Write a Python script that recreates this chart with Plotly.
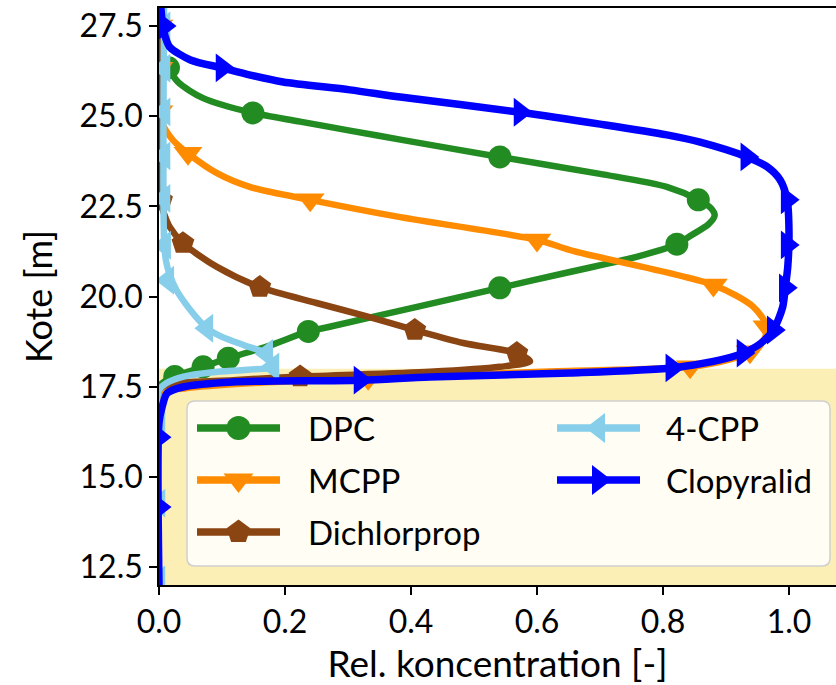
import plotly.graph_objects as go

# ---------------- profile data (relative concentration vs. level) ----------------
DPC_Y = [28.0, 27.3, 26.7, 26.34, 25.95, 25.5, 25.09, 24.85, 24.6, 24.35, 23.87, 23.4, 23.04,
         22.68, 22.45, 22.25, 22.0, 21.7, 21.45, 21.1, 20.68, 20.24, 19.7, 19.16, 19.03, 18.61,
         18.29, 18.05, 17.78, 17.5, 12.0]
DPC_X = [0.0, 0.001, 0.006, 0.015, 0.03, 0.07, 0.149, 0.224, 0.303, 0.383, 0.541, 0.70, 0.806,
         0.856, 0.876, 0.882, 0.872, 0.845, 0.822, 0.758, 0.652, 0.541, 0.406, 0.271, 0.237, 0.171,
         0.11, 0.07, 0.025, 0.0, 0.0]
DPC_MY = [26.34, 25.09, 23.87, 22.68, 21.45, 20.24, 19.03, 18.29, 18.05, 17.78]
DPC_MX = [0.015, 0.149, 0.541, 0.856, 0.822, 0.541, 0.237, 0.11, 0.07, 0.025]

MCPP_Y = [28.0, 25.2, 24.85, 24.34, 23.97, 23.42, 23.04, 22.68, 22.2, 21.57, 21.25, 20.32, 19.72,
          19.16, 18.8, 18.47, 18.25, 18.05, 17.92, 17.73, 17.6, 17.45, 17.3, 12.0]
MCPP_X = [0.0, 0.0, 0.004, 0.022, 0.046, 0.092, 0.144, 0.24, 0.383, 0.6, 0.66, 0.88, 0.943,
          0.965, 0.96, 0.938, 0.905, 0.843, 0.62, 0.332, 0.15, 0.04, 0.0, 0.0]
MCPP_MY = [27.5, 26.33, 25.12, 23.97, 22.68, 21.57, 20.32, 19.16, 18.47, 18.05, 17.73]
MCPP_MX = [0.0, 0.0, 0.0, 0.046, 0.24, 0.6, 0.88, 0.965, 0.938, 0.843, 0.332]

DICH_Y = [28.0, 22.8, 22.4, 21.93, 21.48, 20.82, 20.26, 19.82, 19.45, 19.07, 18.71, 18.43, 18.2,
          18.05, 17.91, 17.78, 17.68, 17.55, 17.4, 12.0]
DICH_X = [0.0, 0.0, 0.006, 0.017, 0.038, 0.092, 0.16, 0.25, 0.33, 0.406, 0.483, 0.568, 0.589,
          0.541, 0.43, 0.224, 0.117, 0.012, 0.0, 0.0]
DICH_MY = [22.67, 21.48, 20.26, 19.07, 18.43, 17.78]
DICH_MX = [0.004, 0.038, 0.16, 0.406, 0.568, 0.224]

CPP_Y = [28.0, 21.6, 21.0, 20.6, 20.2, 19.8, 19.45, 19.12, 18.88, 18.65, 18.42, 18.2, 18.05,
         17.97, 17.9, 17.78, 17.6, 17.4, 12.0]
CPP_X = [0.008, 0.008, 0.011, 0.017, 0.027, 0.042, 0.058, 0.076, 0.10, 0.135, 0.171, 0.18, 0.181,
         0.14, 0.085, 0.039, 0.012, 0.0, 0.0]
CPP_MY = [27.5, 26.33, 25.12, 23.9, 22.72, 21.42, 20.45, 19.12, 18.42, 18.05, 16.6, 14.27, 12.14]
CPP_MX = [0.008, 0.008, 0.008, 0.008, 0.008, 0.009, 0.014, 0.076, 0.171, 0.181, 0.0, 0.0, 0.0]

CLOP_Y = [28.0, 27.5, 27.2, 26.92, 26.56, 26.34, 26.14, 25.95, 25.73, 25.53, 25.11, 24.78, 24.48,
          24.28, 23.87, 23.6, 23.23, 22.68, 21.76, 20.82, 20.24, 19.71, 19.07, 18.7, 18.43, 18.2,
          18.02, 17.88, 17.77, 17.68, 17.63, 17.49, 17.32, 16.94, 16.5, 12.0]
CLOP_X = [0.003, 0.006, 0.01, 0.017, 0.05, 0.10, 0.145, 0.197, 0.303, 0.383, 0.573, 0.70, 0.806,
          0.859, 0.933, 0.965, 0.986, 0.997, 1.0, 0.998, 0.994, 0.99, 0.975, 0.955, 0.927, 0.88,
          0.814, 0.652, 0.43, 0.319, 0.117, 0.038, 0.013, 0.005, 0.0, 0.0]
CLOP_MY = [27.5, 26.34, 25.11, 23.87, 22.68, 21.43, 20.24, 19.07, 18.43, 18.02, 17.68, 16.1, 14.16]
CLOP_MX = [0.008, 0.10, 0.573, 0.933, 0.997, 0.997, 0.994, 0.975, 0.927, 0.814, 0.319, 0.0, 0.0]

SERIES = ["DPC", "MCPP", "Dichlorprop", "4-CPP", "Clopyralid"]
COLORS = ["#228B22", "#FF8C00", "#8B4513", "#87CEEB", "#0000FF"]
SYMBOLS = ["circle", "triangle-down", "pentagon", "triangle-left", "triangle-right"]
MSIZES = [23, 25, 24, 25, 25]
LWIDTHS = [6.5, 6.5, 6.5, 6.5, 7.5]

X_TICKS = [0.0, 0.2, 0.4, 0.6, 0.8, 1.0]
Y_TICKS = [12.5, 15.0, 17.5, 20.0, 22.5, 25.0, 27.5]

BAND = (12.0, 18.0)          # shaded level interval
X_RANGE = [0.0, 1.0746]
Y_RANGE = [12.0, 28.0]

FONT = "Lato"
W, H = 836, 685
ML, MR, MT, MB = 159, 0, 8, 100

curves = [(DPC_X, DPC_Y, DPC_MX, DPC_MY), (MCPP_X, MCPP_Y, MCPP_MX, MCPP_MY),
          (DICH_X, DICH_Y, DICH_MX, DICH_MY), (CPP_X, CPP_Y, CPP_MX, CPP_MY),
          (CLOP_X, CLOP_Y, CLOP_MX, CLOP_MY)]

fig = go.Figure()

for name, col, sym, ms, lw, (cx, cy, mx, my) in zip(SERIES, COLORS, SYMBOLS, MSIZES, LWIDTHS, curves):
    fig.add_trace(go.Scatter(x=cx, y=cy, mode="lines", name=name, showlegend=False,
                             line=dict(color=col, width=lw, shape="spline", smoothing=0.8),
                             hoverinfo="skip"))
    fig.add_trace(go.Scatter(x=mx, y=my, mode="markers", name=name, showlegend=False,
                             marker=dict(color=col, symbol=sym, size=ms, line=dict(width=0)),
                             hoverinfo="skip"))

# shaded band behind the profiles
fig.add_shape(type="rect", xref="x domain", yref="y", x0=0, x1=1, y0=BAND[0], y1=BAND[1],
              fillcolor="#FBEFB6", line=dict(width=0), layer="below")

# ---------------- legend drawn on a pixel-unit overlay axis ----------------
LEG_BOX = (187, 401, 830, 566)
LEG_R = 8
LEG_ROWS = [428, 480, 532]
LEG_COLS = [(197, 280, 306), (557, 640, 664)]

x0, y0, x1, y1 = LEG_BOX
r = LEG_R
path = (f"M{x0 + r},{y0} L{x1 - r},{y0} Q{x1},{y0} {x1},{y0 + r} L{x1},{y1 - r} "
        f"Q{x1},{y1} {x1 - r},{y1} L{x0 + r},{y1} Q{x0},{y1} {x0},{y1 - r} "
        f"L{x0},{y0 + r} Q{x0},{y0} {x0 + r},{y0} Z")
fig.add_shape(type="path", path=path, xref="x2", yref="y2",
              fillcolor="rgba(255,255,255,0.85)", line=dict(color="#CFCFCF", width=1.5),
              layer="below")

for i, (name, col, sym, ms) in enumerate(zip(SERIES, COLORS, SYMBOLS, MSIZES)):
    col_i = 0 if i < 3 else 1
    row_i = i if i < 3 else i - 3
    lx0, lx1, tx = LEG_COLS[col_i]
    ry = LEG_ROWS[row_i]
    fig.add_trace(go.Scatter(x=[lx0, lx1], y=[ry, ry], mode="lines", xaxis="x2", yaxis="y2",
                             line=dict(color=col, width=7.5), showlegend=False, hoverinfo="skip"))
    fig.add_trace(go.Scatter(x=[(lx0 + lx1) / 2], y=[ry], mode="markers", xaxis="x2", yaxis="y2",
                             marker=dict(color=col, symbol=sym, size=ms + 1, line=dict(width=0)),
                             showlegend=False, hoverinfo="skip"))
    fig.add_annotation(x=tx, y=ry, xref="x2", yref="y2", text=name, showarrow=False,
                       xanchor="left", yanchor="middle",
                       font=dict(family=FONT, size=33, color="black"))

axis_common = dict(showgrid=False, zeroline=False, showline=True, linecolor="black", linewidth=1.6,
                   ticks="outside", ticklen=8, tickwidth=1.5, tickcolor="black",
                   tickfont=dict(family=FONT, size=32, color="black"))

fig.update_layout(
    width=W, height=H,
    margin=dict(l=ML, r=MR, t=MT, b=MB),
    paper_bgcolor="white", plot_bgcolor="white",
    xaxis=dict(range=X_RANGE, tickvals=X_TICKS, ticktext=[f"{v:.1f}" for v in X_TICKS],
               mirror=True,
               title=dict(text="Rel. koncentration [-]", font=dict(family=FONT, size=37, color="black"),
                          standoff=2),
               **axis_common),
    yaxis=dict(range=Y_RANGE, tickvals=Y_TICKS, ticktext=[f"{v:.1f}" for v in Y_TICKS],
               title=dict(text="Kote [m]", font=dict(family=FONT, size=36, color="black"),
                          standoff=16),
               **axis_common),
    xaxis2=dict(overlaying="x", range=[ML, W - MR], visible=False, fixedrange=True),
    yaxis2=dict(overlaying="y", range=[H - MB, MT], visible=False, fixedrange=True),
    showlegend=False,
)

fig.write_html("out.html")
